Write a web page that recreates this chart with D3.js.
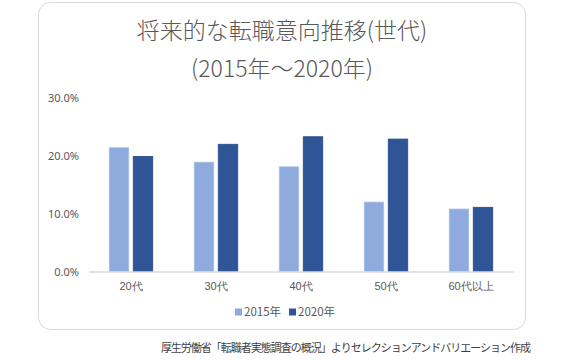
<!DOCTYPE html>
<html><head><meta charset="utf-8">
<script src="https://cdn.jsdelivr.net/npm/d3@7"></script>
<style>body{margin:0;background:#fff;}svg{display:block;font-family:"Noto Sans CJK JP","Noto Sans",sans-serif;}</style>
</head><body>
<svg id="c" width="580" height="360"></svg>
<script>
const categories = ["20代", "30代", "40代", "50代", "60代以上"];
const seriesNames = ["2015年", "2020年"];
const values2015 = [21.4, 18.9, 18.1, 12.0, 10.8];
const values2020 = [19.9, 22.0, 23.3, 22.9, 11.1];
const yTicks = [0, 10, 20, 30];
const titleLines = ["将来的な転職意向推移(世代)", "(2015年～2020年)"];
const sourceText = "厚生労働省「転職者実態調査の概況」よりセレクションアンドバリエーション作成";

const colors = ["#8faadc", "#2f5597"];
const svg = d3.select("#c");

// card
svg.append("rect").attr("x", 38.5).attr("y", 2.5).attr("width", 487).attr("height", 327)
  .attr("rx", 12).attr("fill", "#fff").attr("stroke", "#d9d9d9").attr("stroke-width", 1);

// titles
svg.selectAll("text.title").data(titleLines).join("text")
  .attr("x", 282).attr("y", (d, i) => 39 + i * 38)
  .attr("text-anchor", "middle").attr("font-size", 23).attr("fill", "#595959")
  .attr("font-weight", 300)
  .text(d => d);

const x = d3.scaleBand().domain(categories).range([88.5, 513.5]).paddingInner(0).paddingOuter(0);
const y = d3.scaleLinear().domain([0, 30]).range([271.5, 98]);

const bw = 19.5, gap = 4.5;
const data = categories.map((c, i) => ({c, v: [values2015[i], values2020[i]]}));

// y axis
const yAxis = d3.axisLeft(y).tickValues(yTicks).tickFormat(d => d.toFixed(1) + "%").tickSize(0).tickPadding(0);
const gy = svg.append("g").attr("transform", "translate(79,0)").call(yAxis);
gy.select(".domain").remove();
gy.selectAll("text").attr("font-size", 11).attr("fill", "#595959").attr("font-family", '"Noto Sans","Noto Sans CJK JP",sans-serif');

// bars
const g = svg.append("g");
data.forEach(d => {
  const cx = x(d.c) + x.bandwidth() / 2;
  d.v.forEach((v, j) => {
    const left = j === 0 ? cx - gap / 2 - bw : cx + gap / 2;
    g.append("rect").attr("x", left).attr("y", y(v)).attr("width", bw)
      .attr("height", y(0) - y(v)).attr("fill", colors[j])
      .attr("stroke", j === 0 ? "#a9bfe6" : "#244a8a").attr("stroke-width", 0.8);
  });
});

// x axis
const xAxis = d3.axisBottom(x).tickSize(0).tickPadding(11);
const gx = svg.append("g").attr("transform", `translate(0,${y(0)})`).call(xAxis);
gx.select(".domain").attr("stroke", "#d9d9d9").attr("stroke-width", 1.5);
gx.selectAll("text").attr("font-size", 11).attr("fill", "#595959");

// legend
const legend = svg.append("g").attr("transform", "translate(235,312)");
const items = legend.selectAll("g").data(seriesNames).join("g")
  .attr("transform", (d, i) => `translate(${i * 54},0)`);
items.append("rect").attr("x", 0).attr("y", -3.5).attr("width", 7).attr("height", 7).attr("fill", (d, i) => colors[i]);
items.append("text").attr("x", 9).attr("y", 4).attr("font-size", 11.5).attr("fill", "#595959").text(d => d);

// source
svg.append("text").attr("x", 530).attr("y", 352).attr("text-anchor", "end")
  .attr("font-size", 11).attr("fill", "#404040").attr("letter-spacing", -1).text(sourceText);
</script>
</body></html>
